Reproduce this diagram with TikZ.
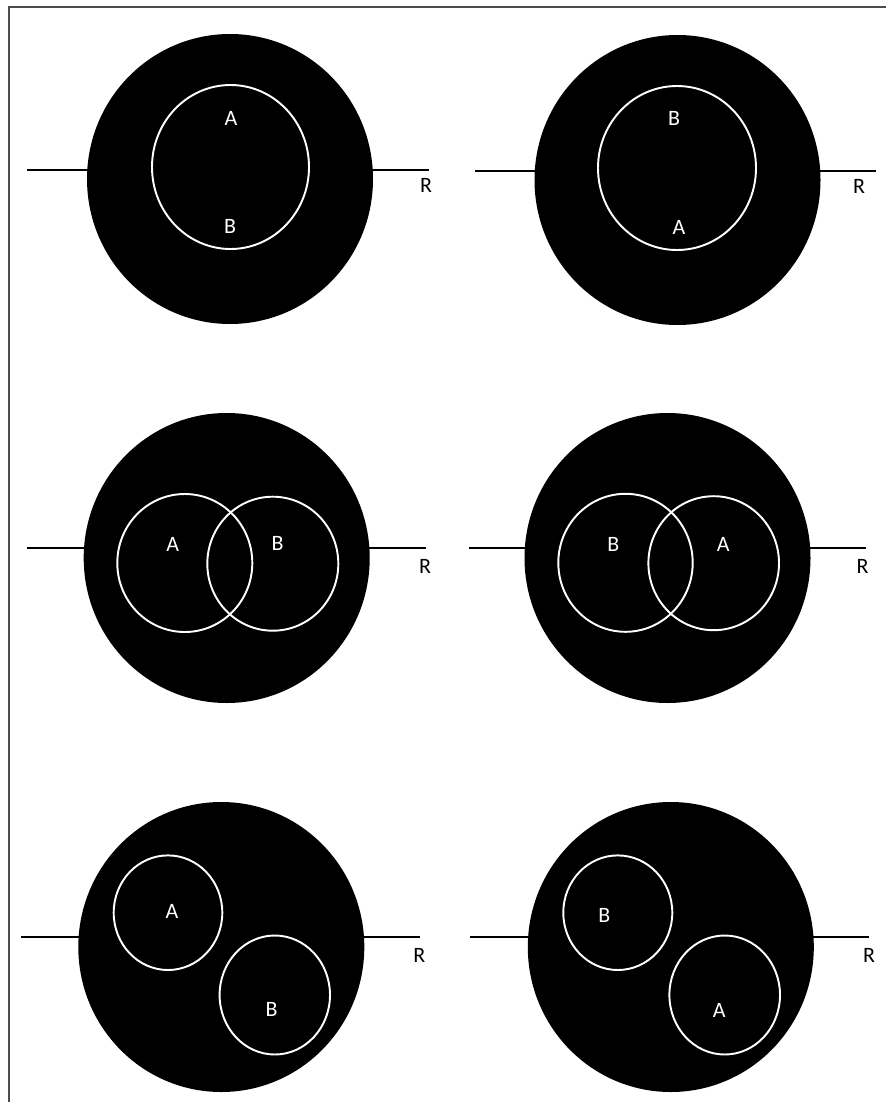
\documentclass[tikz,border=0pt]{standalone}
\usepackage{fontspec}
\setmainfont{Carlito}
\usetikzlibrary{shapes.geometric}
\begin{document}
\begin{tikzpicture}[x=0.02cm,y=-0.02cm,
  frameline/.style={draw=black!70, line width=1.2pt},
  wire/.style={draw=black, line width=1.1pt},
  body/.style={fill=black},
  ring/.style={draw=white, line width=1.1pt},
  inlabel/.style={text=white, inner sep=0pt, font=\fontsize{12.5}{14}\selectfont},
  rlabel/.style={text=black, inner sep=0pt, font=\fontsize{12.5}{14}\selectfont}]
\useasboundingbox (0,0) rectangle (886,1102);
\fill[white] (0,0) rectangle (886,1102);
% frame (top and left edges visible)
\coordinate (ftl) at (9,7);
\coordinate (ftr) at (886,7);
\coordinate (fbl) at (9,1102);
\draw[frameline] (ftr) -- (ftl) -- (fbl);

% ---------- Panel 1 ----------
\coordinate (w1a) at (27,170);
\coordinate (w1b) at (429,170);
\draw[wire] (w1a) -- (w1b);
\fill[body] (230,179) ellipse [x radius=143, y radius=145];
\draw[ring] (230.5,167) ellipse [x radius=78.5, y radius=82];
\node[inlabel] (p1A) at (231,118) {A};
\node[inlabel] (p1B) at (230,226) {B};
\node[rlabel] (p1R) at (426,185) {R};

% ---------- Panel 2 ----------
\coordinate (w2a) at (475,171);
\coordinate (w2b) at (876,171);
\draw[wire] (w2a) -- (w2b);
\fill[body] (677.5,180) ellipse [x radius=143, y radius=145];
\draw[ring] (677,168) ellipse [x radius=79, y radius=82];
\node[inlabel] (p2B) at (674,118) {B};
\node[inlabel] (p2A) at (679,227) {A};
\node[rlabel] (p2R) at (859,186) {R};

% ---------- Panel 3 ----------
\coordinate (w3a) at (27,548);
\coordinate (w3b) at (426,548);
\draw[wire] (w3a) -- (w3b);
\fill[body] (226.7,558) ellipse [x radius=143, y radius=145];
\draw[ring] (184.8,563) ellipse [x radius=67.5, y radius=69];
\draw[ring] (272.8,563.7) ellipse [x radius=65.5, y radius=67];
\node[inlabel] (p3A) at (172.7,544) {A};
\node[inlabel] (p3B) at (277.7,543.3) {B};
\node[rlabel] (p3R) at (425,566) {R};

% ---------- Panel 4 ----------
\coordinate (w4a) at (469,548);
\coordinate (w4b) at (866,548);
\draw[wire] (w4a) -- (w4b);
\fill[body] (667.5,558) ellipse [x radius=143, y radius=145];
\draw[ring] (625.5,562.8) ellipse [x radius=67.2, y radius=69];
\draw[ring] (713.7,563.2) ellipse [x radius=65.3, y radius=67];
\node[inlabel] (p4B) at (613.3,544) {B};
\node[inlabel] (p4A) at (723.3,544) {A};
\node[rlabel] (p4R) at (862.7,566.7) {R};

% ---------- Panel 5 ----------
\coordinate (w5a) at (21,937.3);
\coordinate (w5b) at (420,937.3);
\draw[wire] (w5a) -- (w5b);
\fill[body] (221.3,947) ellipse [x radius=143, y radius=145];
\draw[ring] (168,912.7) ellipse [x radius=54.3, y radius=57.3];
\draw[ring] (274.8,995) ellipse [x radius=55.2, y radius=59.5];
\node[inlabel] (p5A) at (172,911) {A};
\node[inlabel] (p5B) at (271.7,1009.3) {B};
\node[rlabel] (p5R) at (419.3,955) {R};

% ---------- Panel 6 ----------
\coordinate (w6a) at (470,937.3);
\coordinate (w6b) at (869.3,937.3);
\draw[wire] (w6a) -- (w6b);
\fill[body] (670.8,947) ellipse [x radius=143, y radius=145];
\draw[ring] (617.8,912.7) ellipse [x radius=54.5, y radius=57.3];
\draw[ring] (724.7,995) ellipse [x radius=55.3, y radius=59.5];
\node[inlabel] (p6B) at (604.3,915.7) {B};
\node[inlabel] (p6A) at (719.3,1010.7) {A};
\node[rlabel] (p6R) at (869,955.7) {R};
\end{tikzpicture}
\end{document}
